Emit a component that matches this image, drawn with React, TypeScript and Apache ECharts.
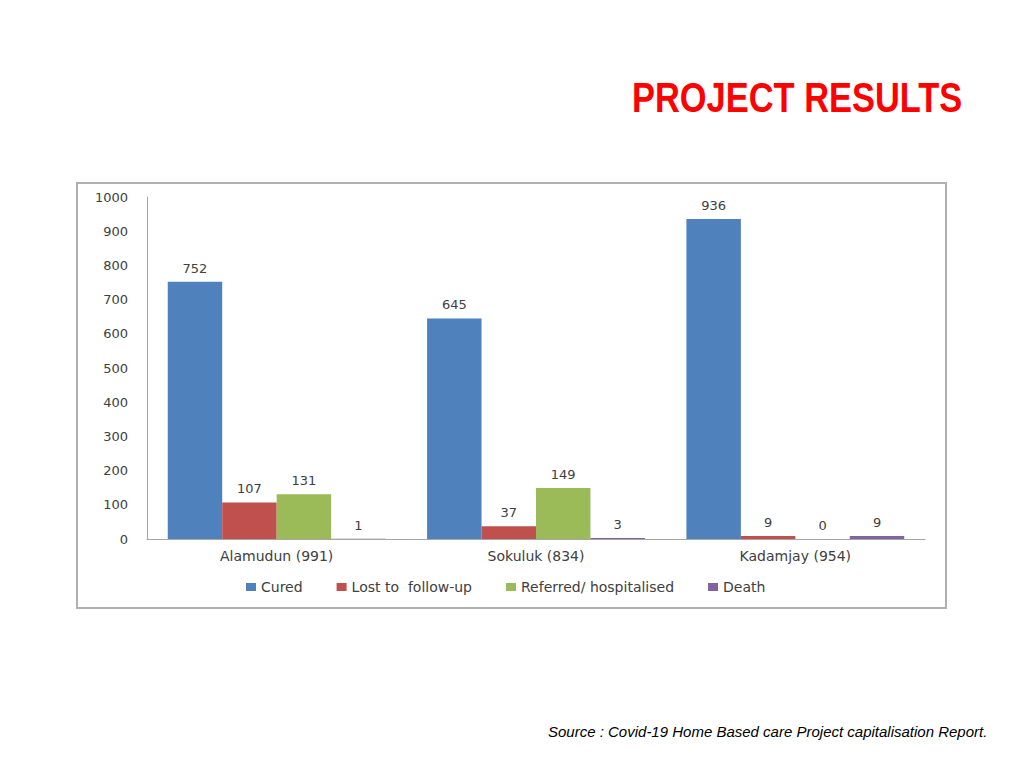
import React, { useEffect, useRef } from "react";
import * as echarts from "echarts";

const categories = ["Alamudun (991)", "Sokuluk (834)", "Kadamjay (954)"];
const seriesNames = ["Cured", "Lost to  follow-up", "Referred/ hospitalised", "Death"];
const cured = [752, 645, 936];
const lostToFollowUp = [107, 37, 9];
const referred = [131, 149, 0];
const death = [1, 3, 9];
const colors = ["#4F81BD", "#C0504D", "#9BBB59", "#8064A2"];
const yMin = 0;
const yMax = 1000;
const yInterval = 100;

const titleText = "PROJECT RESULTS";
const sourceText = "Source : Covid-19 Home Based care Project capitalisation Report.";

export default function App() {
  const ref = useRef<HTMLDivElement>(null);
  useEffect(() => {
    if (!ref.current) return;
    const chart = echarts.init(ref.current, null, { renderer: "svg" });
    const font = "DejaVu Sans";
    const values = [cured, lostToFollowUp, referred, death];
    chart.setOption({
      animation: false,
      backgroundColor: "#ffffff",
      color: colors,
      textStyle: { fontFamily: font },
      grid: { left: 147, right: 99, top: 197, bottom: 229, containLabel: false },
      legend: {
        top: 575,
        left: 241,
        itemWidth: 10,
        itemHeight: 8,
        itemGap: 34,
        icon: "rect",
        textStyle: { fontFamily: font, fontSize: 14, color: "#404040" },
        data: seriesNames,
      },
      xAxis: {
        type: "category",
        data: categories,
        axisLine: { show: true, lineStyle: { color: "#a6a6a6", width: 1 } },
        axisTick: { show: false },
        axisLabel: { fontFamily: font, fontSize: 14, color: "#404040", margin: 10 },
      },
      yAxis: {
        type: "value",
        min: yMin,
        max: yMax,
        interval: yInterval,
        axisLine: { show: true, lineStyle: { color: "#a6a6a6", width: 1 } },
        axisTick: { show: false },
        splitLine: { show: false },
        axisLabel: {
          fontFamily: font,
          fontSize: 13,
          color: "#404040",
          margin: 19,
          formatter: (v: number) => String(v),
        },
      },
      series: seriesNames.map((name, i) => ({
        name,
        type: "bar",
        data: values[i],
        barGap: "0%",
        barCategoryGap: "16%",
        itemStyle: { color: colors[i] },
        label: {
          show: true,
          position: "top",
          distance: 7,
          fontFamily: font,
          fontSize: 13,
          color: "#404040",
        },
      })),
      graphic: [
        {
          type: "rect",
          shape: { x: 77, y: 183, width: 869, height: 425 },
          style: { fill: "none", stroke: "#b0b0b0", lineWidth: 2 },
          silent: true,
          z: -1,
        },
        {
          type: "text",
          x: 632,
          y: 97,
          scaleX: 0.82,
          style: {
            text: titleText,
            fill: "#FF0000",
            font: "bold 42px 'Liberation Sans'",
            align: "left",
            verticalAlign: "middle",
          },
        },
        {
          type: "text",
          x: 548,
          y: 731,
          style: {
            text: sourceText,
            fill: "#000000",
            font: "italic 15px 'Liberation Sans'",
            align: "left",
            verticalAlign: "middle",
          },
        },
      ],
    });
    return () => chart.dispose();
  }, []);
  return (
    <div
      ref={ref}
      style={{ position: "fixed", left: 0, top: 0, width: 1024, height: 768, background: "#fff" }}
    />
  );
}
